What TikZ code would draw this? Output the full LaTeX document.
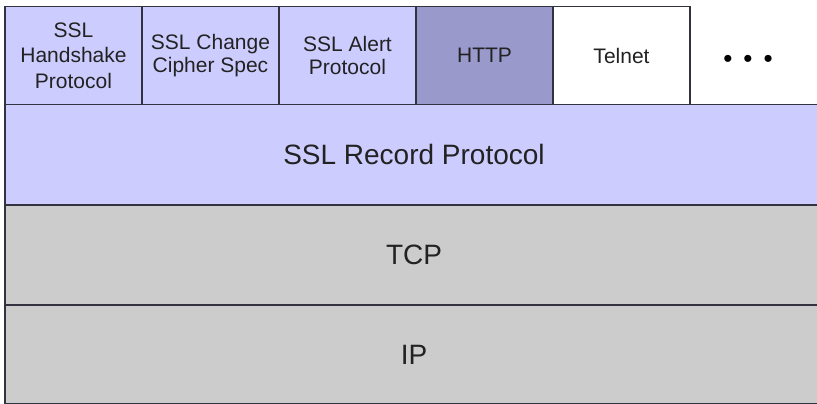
\documentclass[tikz,border=0pt]{standalone}
\usepackage{fontspec}
\setmainfont{Liberation Sans}
\definecolor{lav}{HTML}{CCCCFF}
\definecolor{httpc}{HTML}{9999CC}
\definecolor{greyc}{HTML}{CCCCCC}
\definecolor{edge}{HTML}{333340}
\definecolor{txt}{HTML}{222222}
\tikzset{
  layer/.style={draw=edge, line width=1.8pt, anchor=north west, inner sep=0pt, outer sep=0pt, text=txt},
  topbox/.style={layer, minimum width=137pt, minimum height=98pt, align=center},
  lowbox/.style={layer, minimum width=818pt, font=\fontsize{28}{32}\selectfont},
}
\begin{document}
\begin{tikzpicture}[x=1pt,y=-1pt]
\useasboundingbox (0,0) rectangle (817,404);
\clip (0,0) rectangle (817,404);
\fill[white] (0,0) rectangle (817,404);
% lower layers
\node[lowbox, fill=lav, minimum height=100.5pt] (rec) at (5,104.5) {SSL Record Protocol};
\node[lowbox, fill=greyc, minimum height=100pt] (tcp) at (5,205) {TCP};
\node[lowbox, fill=greyc, minimum height=99pt] (ip) at (5,305) {IP};
% top row
\node[topbox, fill=lav, font=\fontsize{21}{25.5}\selectfont] (hs) at (5,6.5) {SSL\\Handshake\\Protocol};
\node[topbox, fill=lav, font=\fontsize{21}{22.5}\selectfont] (ccs) at (142,6.5) {SSL Change\\Cipher Spec};
\node[topbox, fill=lav, font=\fontsize{21}{22.5}\selectfont] (alert) at (279,6.5) {SSL Alert\\Protocol};
\node[topbox, fill=httpc, font=\fontsize{21}{25}\selectfont] (http) at (416,6.5) {HTTP};
\node[topbox, fill=white, font=\fontsize{21}{25}\selectfont] (telnet) at (553,6.5) {Telnet};
\node[font=\fontsize{26}{30}\selectfont, text=black, inner sep=0pt] (more) at (748,61) {•\hspace{11pt}•\hspace{11pt}•};
\end{tikzpicture}
\end{document}
